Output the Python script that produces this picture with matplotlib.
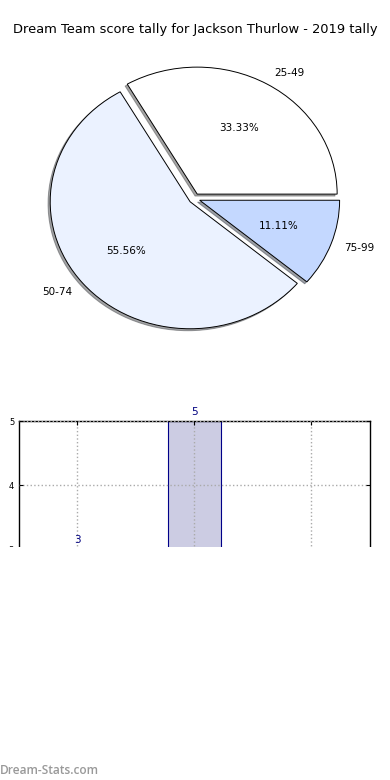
import matplotlib
matplotlib.use("Agg")
import matplotlib.pyplot as plt
from matplotlib.patches import Rectangle

categories = ["25-49", "50-74", "75-99"]
counts = [3, 5, 1]
pie_colors = ["#FFFFFF", "#EBF2FF", "#C4D8FF"]
explode = [0.04, 0.04, 0.04]
title = "Dream Team score tally for Jackson Thurlow - 2019 tally"
yticks = [0, 1, 2, 3, 4, 5]

fig = plt.figure(figsize=(3.9, 7.8), dpi=100)
fig.patch.set_facecolor("white")

# Pie
ax1 = fig.add_axes([0.05, 0.542, 0.897, 0.407])
ax1.pie(counts, labels=categories, colors=pie_colors, explode=explode,
        autopct="%.2f%%", shadow=dict(ox=-0.011, oy=-0.011), startangle=0,
        wedgeprops=dict(edgecolor="black", linewidth=0.7),
        textprops=dict(fontsize=7.5))
ax1.set_aspect("auto")
ax1.set_xlim(-1.25, 1.25)
ax1.set_ylim(-1.25, 1.25)
fig.text(0.5, 0.962, title, ha="center", va="center", fontsize=9.4)

# Bar chart
ax2 = fig.add_axes([0.0487, 0.05, 0.9, 0.41])
x = list(range(len(categories)))
ax2.bar(x, counts, width=0.45, color="#CCCCE3", edgecolor="#000088", linewidth=0.8, zorder=2)
for xi, c in zip(x, counts):
    ax2.annotate(str(c), (xi, c), xytext=(0, 3), textcoords="offset points",
                 ha="center", va="bottom", fontsize=7.5, color="#000080")
ax2.set_xlim(-0.5, 2.5)
ax2.set_ylim(0, 5)
ax2.set_yticks(yticks)
ax2.set_xticks(x)
ax2.set_xticklabels(categories)
ax2.tick_params(direction="in", labelsize=6, length=3, top=True, right=True)
ax2.grid(True, linestyle=":", color="#AAAAAA", linewidth=1, zorder=3)
ax2.set_axisbelow(False)
for s in ax2.spines.values():
    s.set_linewidth(1.0)

# clipped lower region
fig.patches.append(Rectangle((0, 0), 1, (780 - 547) / 780, transform=fig.transFigure,
                             facecolor="white", edgecolor="none", zorder=10))
fig.text(0.0, (780 - 770) / 780, "Dream-Stats.com", ha="left", va="center",
         fontsize=8.6, color="#999999", family="Open Sans", weight="semibold", zorder=11)

fig.savefig("out.png", dpi=100)
